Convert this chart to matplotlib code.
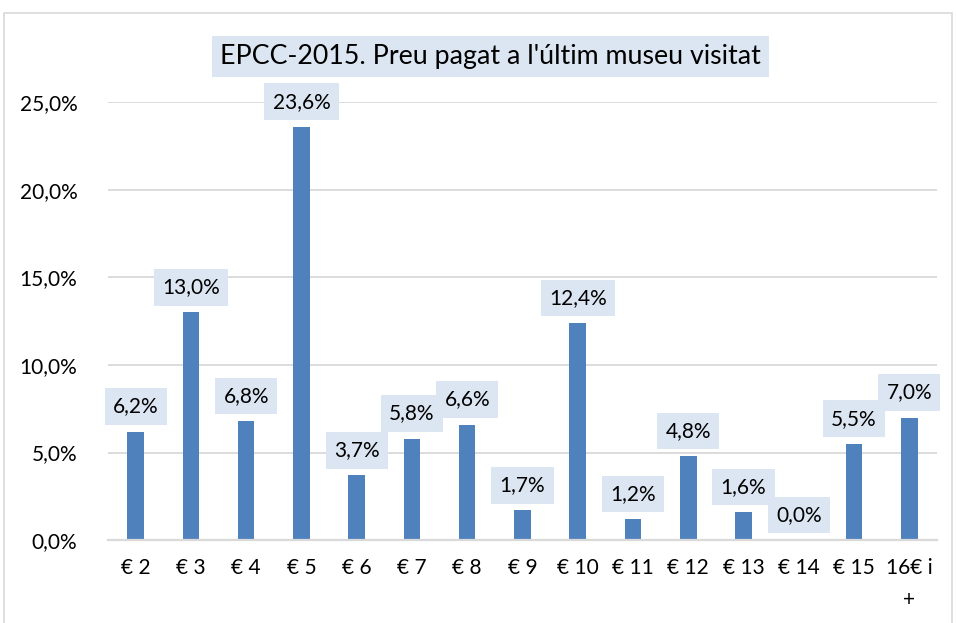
import matplotlib.pyplot as plt
from matplotlib.patches import Rectangle
from matplotlib.ticker import FuncFormatter

plt.rcParams['font.family'] = ['Lato', 'DejaVu Sans']

categories = ["€ 2", "€ 3", "€ 4", "€ 5", "€ 6", "€ 7", "€ 8", "€ 9", "€ 10",
              "€ 11", "€ 12", "€ 13", "€ 14", "€ 15", "16€ i\n+"]
values = [6.2, 13.0, 6.8, 23.6, 3.7, 5.8, 6.6, 1.7, 12.4, 1.2, 4.8, 1.6, 0.0, 5.5, 7.0]

bar_color = "#4F81BD"
box_color = "#DCE6F2"
grid_color = "#D9D9D9"

fig = plt.figure(figsize=(9.56, 6.23), dpi=100)
ax = fig.add_axes([0.113, 0.133, 0.867, 0.703])

x = range(len(categories))
ax.bar(x, values, width=0.3, color=bar_color, zorder=2)

for xi, v in zip(x, values):
    txt = f"{v:.1f}%".replace(".", ",")
    ax.annotate(txt, (xi, v), xytext=(0, 18), textcoords="offset points",
                ha="center", va="center", fontsize=15, color="#000000",
                bbox=dict(boxstyle="square,pad=0.4", fc=box_color, ec="none"),
                zorder=3)

ax.set_ylim(0, 25)
ax.set_xlim(-0.5, len(categories) - 0.5)
ax.set_yticks([0, 5, 10, 15, 20, 25])
ax.yaxis.set_major_formatter(FuncFormatter(lambda v, p: f"{v:.1f}%".replace(".", ",")))
ax.set_xticks(list(x))
ax.set_xticklabels(categories, linespacing=1.75, va="top")
ax.tick_params(axis="both", length=0, labelsize=15, colors="#000000")
ax.tick_params(axis="x", pad=13)
ax.tick_params(axis="y", pad=22)
ax.grid(axis="y", color=grid_color, linewidth=1.3, zorder=0)
for s in ["top", "right", "left"]:
    ax.spines[s].set_visible(False)
ax.spines["bottom"].set_color(grid_color)
ax.spines["bottom"].set_linewidth(1.6)

fig.text(0.513, 0.909, "EPCC-2015. Preu pagat a l'últim museu visitat",
         ha="center", va="center", fontsize=19.3,
         bbox=dict(boxstyle="square,pad=0.3", fc=box_color, ec="none"))

fig.patches.append(Rectangle((4 / 956, -0.02), 948 / 956, 1 - 13 / 623 + 0.02,
                             transform=fig.transFigure, fill=False,
                             ec="#D9D9D9", lw=1.2))

fig.savefig("out.png", dpi=100)
